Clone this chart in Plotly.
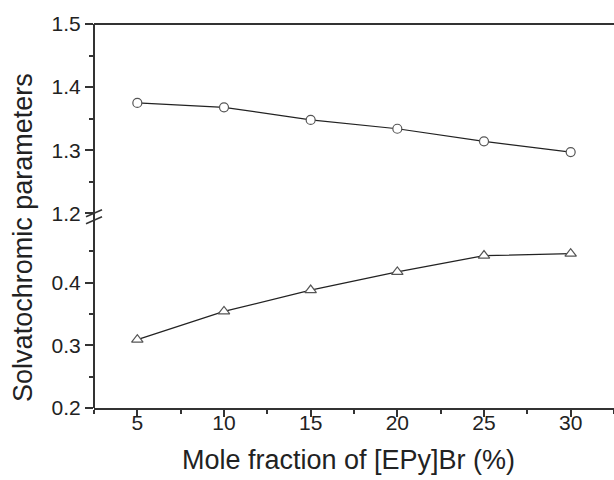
import plotly.graph_objects as go

# Data
mole_fraction = [5, 10, 15, 20, 25, 30]
series_circle = [1.375, 1.368, 1.348, 1.334, 1.314, 1.297]
series_triangle = [0.309, 0.354, 0.388, 0.417, 0.443, 0.446]

x_ticks = [5, 10, 15, 20, 25, 30]
y_low_ticks = [0.2, 0.3, 0.4]
y_low_minor = [0.25, 0.35, 0.45]
y_up_ticks = [1.2, 1.3, 1.4, 1.5]
y_up_minor = [1.25, 1.35, 1.45]

FONT = "Liberation Sans, Arial, sans-serif"
AX = "#333333"
LINE = "#222222"
MK = "#555555"
X_RANGE = [2.5, 32.5]

fig = go.Figure()
fig.add_trace(go.Scatter(
    x=mole_fraction, y=series_circle, xaxis="x", yaxis="y2",
    mode="lines+markers",
    line=dict(color=LINE, width=1.2),
    marker=dict(symbol="circle", size=9, color="white", line=dict(color=MK, width=1.2)),
    showlegend=False, cliponaxis=False,
))
fig.add_trace(go.Scatter(
    x=mole_fraction, y=series_triangle, xaxis="x", yaxis="y",
    mode="lines+markers",
    line=dict(color=LINE, width=1.2),
    marker=dict(symbol="triangle-up", size=10, color="white", line=dict(color=MK, width=1.2)),
    showlegend=False, cliponaxis=False,
))

tickfont = dict(family=FONT, size=21, color="#222222")

fig.update_layout(
    width=614, height=480,
    margin=dict(l=94, r=0, t=24, b=72),
    paper_bgcolor="white", plot_bgcolor="white",
    font=dict(family=FONT, color="#222222"),
    # x axis: line + tick marks (no labels)
    xaxis=dict(
        range=X_RANGE, anchor="y", domain=[0, 1],
        tickmode="array", tickvals=x_ticks, showticklabels=False,
        ticks="outside", ticklen=7, tickwidth=1.5, tickcolor=AX,
        minor=dict(dtick=2.5, tick0=2.5, ticks="outside", ticklen=4, tickwidth=1.5, tickcolor=AX),
        showline=True, linecolor=AX, linewidth=2,
        showgrid=False, zeroline=False,
    ),
    # overlay x axis carrying only the tick labels (sits closer to the line)
    xaxis2=dict(
        range=X_RANGE, anchor="y", overlaying="x", side="bottom",
        tickmode="array", tickvals=x_ticks, ticks="", ticklen=0,
        showline=False, showgrid=False, zeroline=False, tickfont=tickfont,
    ),
    yaxis=dict(
        domain=[0, 0.49], range=[0.2, 0.5], anchor="x",
        tickmode="array", tickvals=y_low_ticks, ticktext=["0.2", "0.3", "0.4"],
        ticks="outside", ticklen=8, tickwidth=1.5, tickcolor=AX,
        minor=dict(tickmode="array", tickvals=y_low_minor, ticks="outside", ticklen=4, tickwidth=1.5, tickcolor=AX),
        showline=False, showgrid=False, zeroline=False, tickfont=tickfont,
    ),
    yaxis2=dict(
        domain=[0.507, 1], range=[1.2, 1.5], anchor="x",
        tickmode="array", tickvals=y_up_ticks, ticktext=["1.2", "1.3", "1.4", "1.5"],
        ticks="outside", ticklen=8, tickwidth=1.5, tickcolor=AX,
        minor=dict(tickmode="array", tickvals=y_up_minor, ticks="outside", ticklen=4, tickwidth=1.5, tickcolor=AX),
        showline=False, showgrid=False, zeroline=False, tickfont=tickfont,
    ),
)

# invisible trace to activate the label axis
fig.add_trace(go.Scatter(x=[X_RANGE[0]], y=[0.2], xaxis="x2", yaxis="y",
                         mode="markers", marker=dict(opacity=0), showlegend=False,
                         hoverinfo="skip"))

# Left axis line (continuous) and top frame line
fig.add_shape(type="line", xref="paper", yref="paper", x0=0, x1=0, y0=0, y1=1,
              line=dict(color=AX, width=2))
fig.add_shape(type="line", xref="paper", yref="paper", x0=0, x1=1, y0=1, y1=1,
              line=dict(color=AX, width=2))

# Axis break marks
for yc in [0.507, 0.489]:
    fig.add_shape(type="line", xref="paper", yref="paper",
                  xsizemode="pixel", xanchor=0, x0=-8, x1=8,
                  ysizemode="pixel", yanchor=yc, y0=-3.5, y1=3.5,
                  line=dict(color=AX, width=1.5))

# Axis titles
fig.add_annotation(text="Solvatochromic parameters", xref="paper", yref="paper",
                   x=-0.1365, y=0.443, textangle=-90, showarrow=False,
                   xanchor="center", yanchor="middle",
                   font=dict(family=FONT, size=27, color="#222222"))
fig.add_annotation(text="Mole fraction of [EPy]Br (%)", xref="paper", yref="paper",
                   x=0.49, y=-0.135, showarrow=False,
                   xanchor="center", yanchor="middle",
                   font=dict(family=FONT, size=27, color="#222222"))

fig.write_html(
    "out.html",
    config={"displayModeBar": False},
    post_script="document.body.style.margin='0';document.body.style.overflow='hidden';",
)
